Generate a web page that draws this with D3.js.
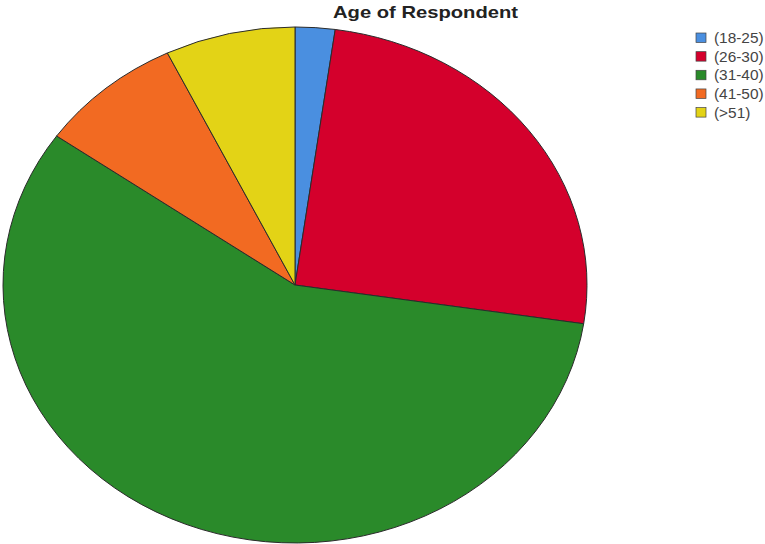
<!DOCTYPE html>
<html><head><meta charset="utf-8">
<script src="https://cdn.jsdelivr.net/npm/d3@7"></script>
<style>body{margin:0;background:#fff}svg{display:block}</style>
</head><body>
<svg id="c" width="765" height="544"></svg>
<script>
const categories = ["(18-25)", "(26-30)", "(31-40)", "(41-50)", "(>51)"];
const values = [2.2, 25.2, 57.4, 8.0, 7.2];
const colors = ["#4a8fe0", "#d4002c", "#2a8a2a", "#f26a22", "#e3d316"];
const title = "Age of Respondent";

const svg = d3.select("#c");
const cx = 295, cy = 285, rx = 292, ry = 258;
const pie = d3.pie().sort(null).value(d => d)(values);
const arc = d3.arc().innerRadius(0).outerRadius(rx);
const g = svg.append("g").attr("transform", `translate(${cx},${cy}) scale(1,${ry/rx})`);
g.selectAll("path").data(pie).join("path")
  .attr("d", arc)
  .attr("fill", (d,i) => colors[i])
  .attr("stroke", "#2b2b2b")
  .attr("stroke-width", 1)
  .attr("vector-effect", "non-scaling-stroke");

svg.append("text").attr("x", 333).attr("y", 18)
  .attr("textLength", 185).attr("lengthAdjust", "spacingAndGlyphs")
  .attr("font-family", "Liberation Sans, Arial, sans-serif").attr("font-weight", "bold")
  .attr("font-size", 17).attr("fill", "#222").text(title);

const lg = svg.append("g").attr("transform", "translate(696,33)");
const rows = lg.selectAll("g").data(categories).join("g")
  .attr("transform", (d,i) => `translate(0,${i*18.65})`);
rows.append("rect").attr("width", 10).attr("height", 9.5)
  .attr("fill", (d,i) => colors[i]).attr("stroke", "#444").attr("stroke-width", 0.7);
rows.append("text").attr("transform", "translate(18,10) scale(1.1,1)")
  .attr("font-family", "Liberation Sans, Arial, sans-serif").attr("font-size", 14)
  .attr("fill", "#444").text(d => d);
</script>
</body></html>
